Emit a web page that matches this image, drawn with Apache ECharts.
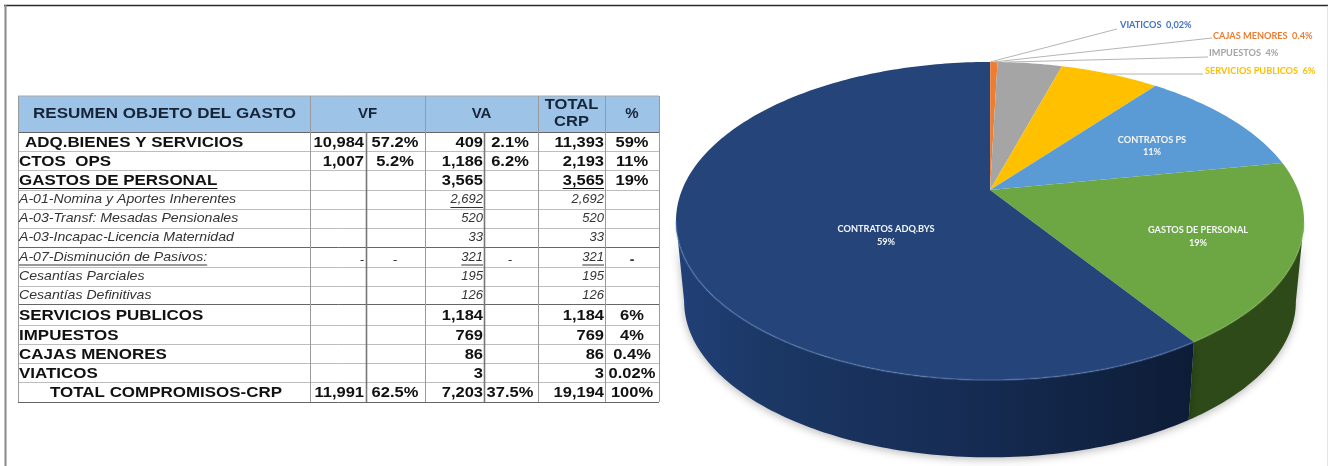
<!DOCTYPE html>
<html><head><meta charset="utf-8">
<style>html,body{margin:0;padding:0;background:#fff}#c{width:1328px;height:466px}</style>
<script src="https://cdn.jsdelivr.net/npm/echarts@6/dist/echarts.min.js"></script></head>
<body><div id="c"></div>
<script>
// ---- pie data (clockwise from the top)
const pieCategories = ['VIATICOS','CAJAS MENORES','IMPUESTOS','SERVICIOS PUBLICOS','CONTRATOS PS','GASTOS DE PERSONAL','CONTRATOS ADQ.BYS'];
const pieValues = [3,86,769,1184,2193,3565,11393];
const piePercents = ['0,02%','0.4%','4%','6%','11%','19%','59%'];
// ---- table data
const rowLabels = ['ADQ.BIENES Y SERVICIOS','CTOS  OPS','GASTOS DE PERSONAL','A-01-Nomina y Aportes Inherentes','A-03-Transf: Mesadas Pensionales','A-03-Incapac-Licencia Maternidad','A-07-Disminución de Pasivos:','Cesantías Parciales','Cesantías Definitivas','SERVICIOS PUBLICOS','IMPUESTOS','CAJAS MENORES','VIATICOS','TOTAL COMPROMISOS-CRP'];
const vfValues  = ['10,984','1,007','','','','','-','','','','','','','11,991'];
const vfPercent = ['57.2%','5.2%','','','','','-','','','','','','','62.5%'];
const vaValues  = ['409','1,186','3,565','2,692','520','33','321','195','126','1,184','769','86','3','7,203'];
const vaPercent = ['2.1%','6.2%','','','','','-','','','','','','','37.5%'];
const totalValues = ['11,393','2,193','3,565','2,692','520','33','321','195','126','1,184','769','86','3','19,194'];
const totalPercent = ['59%','11%','19%','','','','-','','','6%','4%','0.4%','0.02%','100%'];

// ---- styles / layout (not data)
const pieColors = ['#4472C4','#ED7D31','#A5A5A5','#FFC000','#5B9BD5','#6CA743','#254479'];
const NAVY_SIDE = {type:'linear',x:0,y:0,x2:1,y2:0,colorStops:[{offset:0,color:'#214078'},{offset:.18,color:'#1B3764'},{offset:.55,color:'#162C54'},{offset:1,color:'#0D1C36'}]};
const sideColors = [null,null,null,null,'#3A5E78','#2E4A18',NAVY_SIDE];
const rimColors = [null,null,null,null,null,'rgba(150,200,110,.25)','rgba(110,150,210,.3)'];
const P = {cx:990,cy:190,a:308,b:153,k:.195};                // top face projection
const Q = {cx:990,cy:271,a:300,b:150,k:.195};                // lower rim projection
const SIDE_FROM = .281, SIDE_TO = .719;                      // where the silhouette is widest
const inside = {4:[1152,140,1152,152],5:[1198,230,1198,243],6:[886,229,886,242]};
const callouts = {0:{at:.5,end:[1117,29],tx:1120,ty:25},1:{at:.5,end:[1212,38],tx:1213,ty:36},2:{at:.1,end:[1208,57],tx:1209,ty:53},3:{at:.5,end:[1203,74],tx:1205,ty:71}};
const colX = [18,310,366,425,484,538,605,659];
const rowY = [132,151,170,190,209,228,247,267,286,304,325,344,363,382,402];
const FONT_T = '"Liberation Sans",Arial,sans-serif', FONT_P = 'Lato,"Open Sans",sans-serif';

const total = pieValues.reduce((s,v)=>s+v,0);
let acc = 0;
const sliceData = pieValues.map((v,i)=>{const s=acc/total; acc+=v; return [s,acc/total,i];});
function proj(p,f){const t=f*2*Math.PI,X=Math.sin(t),Y=Math.cos(t),d=1+p.k*Y;return [p.cx+p.a*X/d,p.cy-p.b*Y/d];}
function rim(p,s,e){const n=Math.max(2,Math.ceil((e-s)*360)),o=[];for(let i=0;i<=n;i++)o.push(proj(p,s+(e-s)*i/n));return o;}

function renderSide(params,api){
  const i=api.value(2),s=Math.max(api.value(0),SIDE_FROM),e=Math.min(api.value(1),SIDE_TO);
  if(e<=s||!sideColors[i])return null;
  const pts=rim(P,s,e).concat(rim(Q,s,e).reverse()).map(c=>api.coord(c));
  return {type:'polygon',shape:{points:pts},style:{fill:sideColors[i],shadowBlur:9,shadowColor:'rgba(0,0,0,.28)',shadowOffsetY:2}};
}
function renderTop(params,api){
  const i=api.value(2),s=api.value(0),e=api.value(1),c=pieColors[i];
  const children=[{type:'polygon',shape:{points:[[P.cx,P.cy]].concat(rim(P,s,e)).map(q=>api.coord(q))},style:{fill:i===0?'#ED7D31':c}}];
  if(rimColors[i]){
    const a=Math.max(s,SIDE_FROM),b=Math.min(e,SIDE_TO);
    children.push({type:'polyline',shape:{points:rim(P,a,b).map(q=>api.coord(q))},style:{fill:null,stroke:rimColors[i],lineWidth:2}});
  }
  if(inside[i]){
    const L=inside[i];
    const t1=api.coord([L[0],L[1]]),t2=api.coord([L[2],L[3]]);
    const st={fill:'#F4F6F8',font:'bold 9.2px '+FONT_P,align:'center',verticalAlign:'middle'};
    children.push({type:'text',style:Object.assign({},st,{text:pieCategories[i],x:t1[0],y:t1[1]})});
    children.push({type:'text',style:Object.assign({},st,{text:piePercents[i],x:t2[0],y:t2[1]})});
  }
  if(callouts[i]){
    const C=callouts[i],st=proj(P,s+(e-s)*C.at),en=C.end,l=api.coord(st),m=api.coord(en),t=api.coord([C.tx,C.ty]);
    children.push({type:'line',shape:{x1:l[0],y1:l[1],x2:m[0],y2:m[1]},style:{stroke:'#B5B5B5',lineWidth:1}});
    children.push({type:'text',style:{text:pieCategories[i]+'  '+piePercents[i],x:t[0],y:t[1],fill:c,font:'bold 9.2px '+FONT_P,align:'left',verticalAlign:'middle'}});
  }
  return {type:'group',children};
}

// ---- table drawn as graphic elements
const G=[];
const meas=document.createElement('canvas').getContext('2d');
function txt(text,x,y,font,fill,align,sx){G.push({type:'text',z:5,x,y,scaleX:sx||1,style:{text,x:0,y:0,font,fill:fill||'#111',align:align||'left',verticalAlign:'middle'}});}
function ln(x1,y1,x2,y2,c,w){G.push({type:'line',z:4,shape:{x1,y1,x2,y2},style:{stroke:c,lineWidth:w||1}});}
// frame
ln(4,5.5,1328,5.5,'#2A2A2A',1.6);
ln(5.5,5,5.5,466,'#8A8A8A',2);
ln(1327.5,6,1327.5,466,'#E4E4E4',1);
// header
G.push({type:'rect',z:1,shape:{x:colX[0],y:96,width:colX[7]-colX[0],height:36},style:{fill:'#9DC3E6'}});
const HF='bold 15px '+FONT_T, HC='#16243A';
txt('RESUMEN OBJETO DEL GASTO',33,114,HF,HC,'left',1.134);
txt('VF',(colX[1]+colX[3])/2,114,HF,HC,'center');
txt('VA',(colX[3]+colX[5])/2,114,HF,HC,'center');
txt('TOTAL',(colX[5]+colX[6])/2,105,'bold 14px '+FONT_T,HC,'center',1.18);
txt('CRP',(colX[5]+colX[6])/2,122,'bold 14px '+FONT_T,HC,'center',1.18);
txt('%',(colX[6]+colX[7])/2,114,'bold 15px '+FONT_T,HC,'center');
// grid
rowY.forEach((y,i)=>{const dark=(y===247||y===304||y===132||y===402);ln(colX[0],y+.5,colX[7],y+.5,dark?'#666':'#BDBDBD',1);});
ln(colX[0],96,colX[7],96,'#AAA',1);
[0,1,3,5,6,7].forEach(c=>ln(colX[c]+.5,96,colX[c]+.5,402,'#9A9A9A',1));
[2,4].forEach(c=>ln(colX[c]+.5,132,colX[c]+.5,402,'#777',1.6));
// rows
const italicRows=new Set([3,4,5,6,7,8]);
rowLabels.forEach((lab,r)=>{
  const it=italicRows.has(r), last=r===13;
  const y=(rowY[r]+rowY[r+1])/2+(it?0:1);
  const font=it?('italic 13px '+FONT_T):('bold 15px '+FONT_T);
  const col=it?'#333':'#111';
  const x=r===0?25:(last?50:19);
  const sxL=it?1.085:1.13, sxN=it?1:1.1;
  const ul=it?8:7.5;
  txt(lab,x,y,font,col,'left',sxL);
  if(r===2||r===6){meas.font=font;ln(x,y+ul,x+meas.measureText(lab).width*sxL,y+ul,col,1);}
  const under=(t,xr)=>{meas.font=font;ln(xr-meas.measureText(t).width*sxN,y+ul,xr,y+ul,col,1);};
  if(vfValues[r])txt(vfValues[r],colX[2]-2,vfValues[r]==='-'?y+3:y,font,col,'right',sxN);
  if(vfPercent[r])txt(vfPercent[r],395,vfPercent[r]==='-'?y+3:y,font,col,'center',sxN);
  txt(vaValues[r],colX[4]-1,y,font,col,'right',sxN);
  if(vaPercent[r])txt(vaPercent[r],510,vaPercent[r]==='-'?y+3:y,font,col,'center',sxN);
  txt(totalValues[r],colX[6]-1,y,font,col,'right',sxN);
  if(totalPercent[r])txt(totalPercent[r],632,totalPercent[r]==='-'?y+3:y,it?'bold 14px '+FONT_T:font,col,'center',sxN);
  if(r===3||r===6)under(vaValues[r],colX[4]-1);
  if(r===2||r===6)under(totalValues[r],colX[6]-1);
});

const chart=echarts.init(document.getElementById('c'),null,{renderer:'canvas'});
chart.setOption({
  animation:false,backgroundColor:'#fff',
  grid:{left:0,right:0,top:0,bottom:0},
  xAxis:{type:'value',min:0,max:1328,show:false},
  yAxis:{type:'value',min:0,max:466,inverse:true,show:false},
  series:[
    {type:'custom',name:'side',coordinateSystem:'cartesian2d',clip:false,silent:true,data:sliceData,renderItem:renderSide,encode:{x:0,y:1}},
    {type:'custom',name:'top',coordinateSystem:'cartesian2d',clip:false,silent:true,data:sliceData,renderItem:renderTop,encode:{x:0,y:1}}
  ],
  graphic:G
});
</script></body></html>
